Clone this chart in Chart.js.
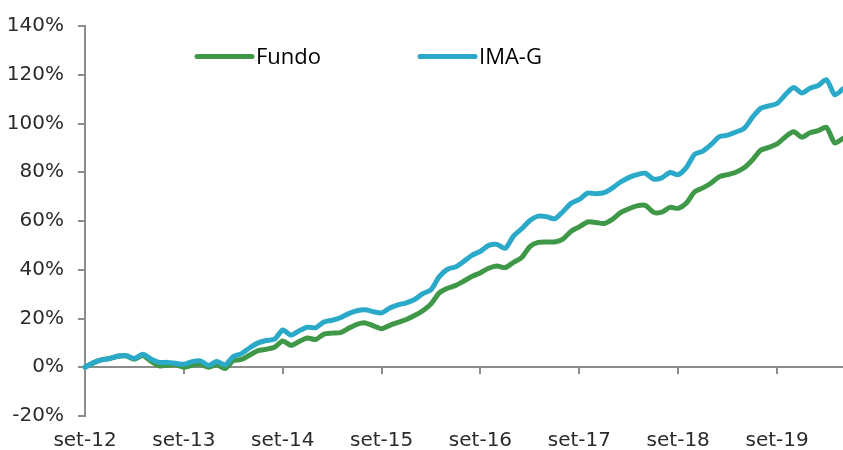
<!DOCTYPE html>
<html>
<head>
<meta charset="utf-8">
<script src="https://cdn.jsdelivr.net/npm/chart.js@4"></script>
<style>
  html, body { margin: 0; padding: 0; background: #fff; }
  #wrap { width: 843px; height: 450px; position: relative; }
</style>
</head>
<body>
<div id="wrap"><canvas id="grafico"></canvas></div>
<script>
// meses (set-12 ate mai-20)
const meses = ['set', 'out', 'nov', 'dez', 'jan', 'fev', 'mar', 'abr', 'mai', 'jun', 'jul', 'ago']
const anoInicial = 12
const totalMeses = 93

const labels = []
for (let i = 0; i < totalMeses; i++) {
  const ano = anoInicial + Math.floor((i + 8) / 12)
  labels.push(meses[i % 12] + '-' + ano)
}

// rentabilidade acumulada (%)
const fundo = [
  0, 1.8, 3.0, 3.6, 4.5, 4.6, 3.3, 4.8, 2.5, 0.6,
  0.8, 1.0, 0.0, 0.8, 1.2, 0.0, 1.0, -0.5, 2.7, 3.2,
  5.0, 6.8, 7.4, 8.2, 10.8, 9.0, 10.6, 12.0, 11.4, 13.6,
  14.0, 14.2, 16.0, 17.6, 18.2, 17.0, 15.8, 17.2, 18.4, 19.6,
  21.2, 23.2, 26.0, 30.5, 32.4, 33.6, 35.4, 37.3, 38.8, 40.6,
  41.5, 40.9, 43.0, 45.0, 49.5, 51.2, 51.4, 51.4, 52.6, 55.8,
  57.6, 59.6, 59.4, 59.0, 60.7, 63.4, 65.0, 66.2, 66.4, 63.6,
  63.6, 65.6, 65.2, 67.4, 72.0, 73.6, 75.6, 78.2, 79.0, 80.0,
  81.8, 85.0, 89.0, 90.2, 91.6, 94.5, 96.6, 94.4, 96.2, 97.1,
  98.4, 92.0, 93.9
]

const imaG = [
  0, 1.8, 3.0, 3.6, 4.6, 4.8, 3.6, 5.3, 3.4, 2.0,
  2.0, 1.6, 1.2, 2.3, 2.6, 0.8, 2.4, 1.0, 4.4, 5.6,
  8.0, 10.0, 11.0, 11.5, 15.3, 13.2, 15.0, 16.4, 16.2, 18.6,
  19.3, 20.3, 22.0, 23.2, 23.6, 22.8, 22.3, 24.3, 25.6, 26.4,
  27.8, 30.2, 31.8, 37.2, 40.2, 41.2, 43.5, 46.0, 47.6, 50.0,
  50.4, 48.8, 53.8, 56.8, 60.2, 62.0, 61.8, 60.9, 63.8, 67.3,
  68.9, 71.4, 71.2, 71.6, 73.5, 76.0, 77.8, 79.0, 79.6, 77.2,
  77.7, 79.9, 79.0, 82.0, 87.4, 88.7, 91.4, 94.6, 95.2, 96.5,
  98.0, 102.5, 106.2, 107.2, 108.2, 111.8, 114.8, 112.5, 114.5, 115.6,
  117.9, 111.8, 114.2
]

const corFundo = '#3f9847'
const corImaG = '#2ba9c9'
const corEixo = '#8c8c8c'
const corTexto = '#2b2b2b'

const ehSetembro = i => labels[i] && labels[i].startsWith('set')

// legenda desenhada a mao (posicao igual a do excel)
const legendaManual = {
  id: 'legendaManual',
  afterDraw(chart) {
    const ctx = chart.ctx
    const itens = [
      { x: 197, ds: chart.data.datasets[0] },
      { x: 420, ds: chart.data.datasets[1] }
    ]
    ctx.save()
    itens.forEach(it => {
      ctx.strokeStyle = it.ds.borderColor
      ctx.lineWidth = 5
      ctx.lineCap = 'round'
      ctx.beginPath()
      ctx.moveTo(it.x, 56.5)
      ctx.lineTo(it.x + 55, 56.5)
      ctx.stroke()
      ctx.fillStyle = '#000'
      ctx.font = '22px "Open Sans"'
      ctx.textBaseline = 'alphabetic'
      ctx.fillText(it.ds.label, it.x + 59, 63.5)
    })
    ctx.restore()
  }
}

new Chart(document.getElementById('grafico'), {
  type: 'line',
  data: {
    labels: labels,
    datasets: [{
      label: 'Fundo',
      data: fundo,
      borderColor: corFundo,
      borderWidth: 5,
      pointRadius: 0,
      tension: 0.25,
      borderJoinStyle: 'round',
      borderCapStyle: 'round',
      order: 2
    }, {
      label: 'IMA-G',
      data: imaG,
      borderColor: corImaG,
      borderWidth: 5,
      pointRadius: 0,
      tension: 0.25,
      borderJoinStyle: 'round',
      borderCapStyle: 'round',
      order: 1
    }]
  },
  options: {
    responsive: true,
    maintainAspectRatio: false,
    animation: false,
    layout: { padding: { top: 24, bottom: 34, left: 0, right: 0 } },
    plugins: {
      legend: { display: false },
      tooltip: { enabled: false }
    },
    scales: {
      x: {
        position: { y: 0 },
        // o padding grande dos rotulos nao deve empurrar a area do grafico
        afterFit: s => { s.paddingLeft = 0; s.paddingRight = 0 },
        border: { display: true, color: corEixo, width: 2 },
        grid: {
          drawOnChartArea: false,
          drawTicks: true,
          tickLength: 6,
          lineWidth: 2,
          color: c => ehSetembro(c.index) ? corEixo : 'rgba(0,0,0,0)'
        },
        ticks: {
          autoSkip: false,
          maxRotation: 0,
          padding: 56,
          color: corTexto,
          font: { family: 'DejaVu Sans', size: 20 },
          callback: (v, i) => ehSetembro(i) ? labels[i] : ''
        }
      },
      y: {
        min: -20,
        max: 140,
        afterFit: s => { s.width = 85 },
        border: { display: true, color: corEixo, width: 2 },
        grid: {
          drawOnChartArea: false,
          drawTicks: true,
          tickLength: 7,
          lineWidth: 2,
          color: corEixo
        },
        ticks: {
          stepSize: 20,
          padding: 14,
          color: corTexto,
          font: { family: 'DejaVu Sans', size: 20 },
          callback: v => v + '%'
        }
      }
    }
  },
  plugins: [legendaManual]
})
</script>
</body>
</html>
